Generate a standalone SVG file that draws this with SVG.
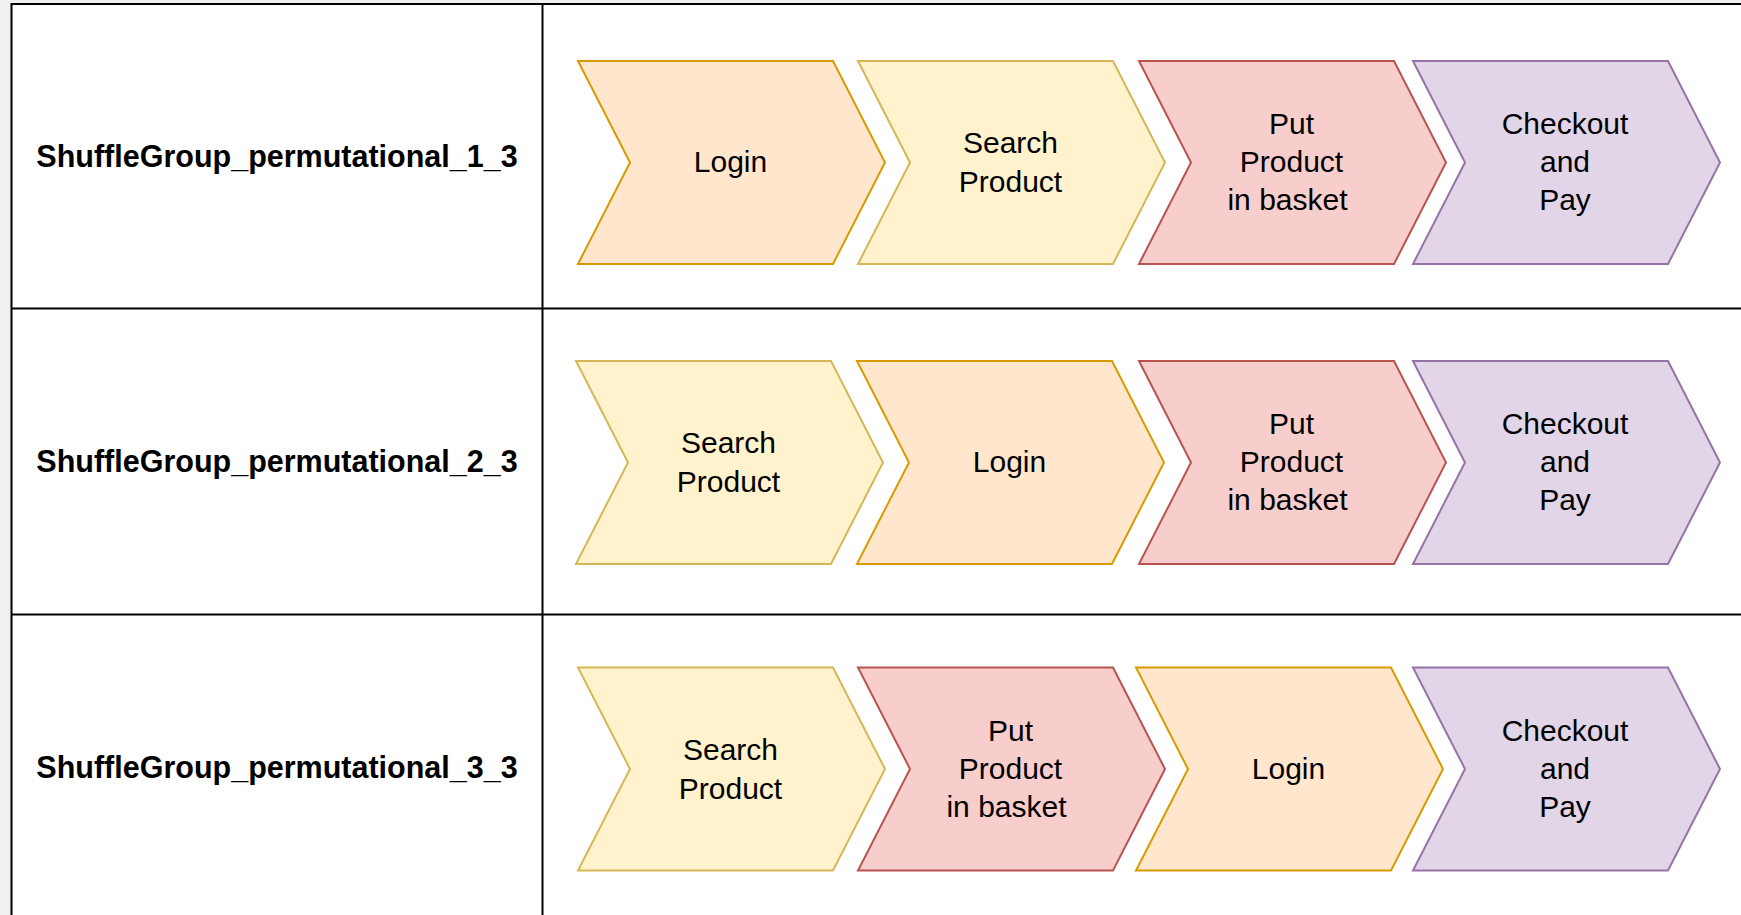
<svg xmlns="http://www.w3.org/2000/svg" xmlns:xlink="http://www.w3.org/1999/xlink" width="1741" height="915" viewBox="0 0 1741 915">
  <style>
    .grid { fill: none; stroke: #000; stroke-width: 2; }
    .cell { fill: #ffffff; stroke: #000; stroke-width: 2; }
    .lbl { font-family: "Liberation Sans", Arial, Helvetica, sans-serif; font-size: 30.5px; font-weight: bold; fill: #000; text-anchor: middle; }
    .t { font-family: "Liberation Sans", Arial, Helvetica, sans-serif; font-size: 30px; fill: #000; text-anchor: middle; }
    .login { fill: #ffe6cc; stroke: #d79b00; stroke-width: 2; }
    .search { fill: #fff2cc; stroke: #d6b656; stroke-width: 2; }
    .put { fill: #f8cecc; stroke: #b85450; stroke-width: 2; }
    .pay { fill: #e1d5e7; stroke: #9673a6; stroke-width: 2; }
  </style>
  <defs>
    <path id="chev" d="M0,0 L255,0 L307,101.5 L255,203 L0,203 L52,101.5 Z"/>
  </defs>
  <rect x="0" y="0" width="1741" height="915" fill="#f0f0f0"/>
  <g id="table">
    <rect x="11.5" y="4" width="1800" height="1000" class="cell"/>
    <line x1="542.5" y1="4" x2="542.5" y2="915" class="grid"/>
    <line x1="11.5" y1="308.5" x2="1741" y2="308.5" class="grid"/>
    <line x1="11.5" y1="614.5" x2="1741" y2="614.5" class="grid"/>
  </g>
  <g id="row-labels">
    <text class="lbl" x="277" y="166.5">ShuffleGroup_permutational_1_3</text>
    <text class="lbl" x="277" y="472">ShuffleGroup_permutational_2_3</text>
    <text class="lbl" x="277" y="778">ShuffleGroup_permutational_3_3</text>
  </g>

  <!-- Row 1 -->
  <g id="r1-login">
    <use xlink:href="#chev" href="#chev" x="578" y="61" class="login"/>
    <text class="t" x="730.5" y="172">Login</text>
  </g>
  <g id="r1-search">
    <use xlink:href="#chev" href="#chev" x="858" y="61" class="search"/>
    <text class="t" x="1010.5" y="153">Search</text>
    <text class="t" x="1010.5" y="192">Product</text>
  </g>
  <g id="r1-put">
    <use xlink:href="#chev" href="#chev" x="1139" y="61" class="put"/>
    <text class="t" x="1291.5" y="134">Put</text>
    <text class="t" x="1291.5" y="172">Product</text>
    <text class="t" x="1287.5" y="210">in basket</text>
  </g>
  <g id="r1-pay">
    <use xlink:href="#chev" href="#chev" x="1413" y="61" class="pay"/>
    <text class="t" x="1565" y="134">Checkout</text>
    <text class="t" x="1565" y="172">and</text>
    <text class="t" x="1565" y="210">Pay</text>
  </g>

  <!-- Row 2 -->
  <g id="r2-search">
    <use xlink:href="#chev" href="#chev" x="576" y="361" class="search"/>
    <text class="t" x="728.5" y="453">Search</text>
    <text class="t" x="728.5" y="492">Product</text>
  </g>
  <g id="r2-login">
    <use xlink:href="#chev" href="#chev" x="857" y="361" class="login"/>
    <text class="t" x="1009.5" y="472">Login</text>
  </g>
  <g id="r2-put">
    <use xlink:href="#chev" href="#chev" x="1139" y="361" class="put"/>
    <text class="t" x="1291.5" y="434">Put</text>
    <text class="t" x="1291.5" y="472">Product</text>
    <text class="t" x="1287.5" y="510">in basket</text>
  </g>
  <g id="r2-pay">
    <use xlink:href="#chev" href="#chev" x="1413" y="361" class="pay"/>
    <text class="t" x="1565" y="434">Checkout</text>
    <text class="t" x="1565" y="472">and</text>
    <text class="t" x="1565" y="510">Pay</text>
  </g>

  <!-- Row 3 -->
  <g id="r3-search">
    <use xlink:href="#chev" href="#chev" x="578" y="667.5" class="search"/>
    <text class="t" x="730.5" y="760">Search</text>
    <text class="t" x="730.5" y="799">Product</text>
  </g>
  <g id="r3-put">
    <use xlink:href="#chev" href="#chev" x="858" y="667.5" class="put"/>
    <text class="t" x="1010.5" y="741">Put</text>
    <text class="t" x="1010.5" y="779">Product</text>
    <text class="t" x="1006.5" y="817">in basket</text>
  </g>
  <g id="r3-login">
    <use xlink:href="#chev" href="#chev" x="1136" y="667.5" class="login"/>
    <text class="t" x="1288.5" y="779">Login</text>
  </g>
  <g id="r3-pay">
    <use xlink:href="#chev" href="#chev" x="1413" y="667.5" class="pay"/>
    <text class="t" x="1565" y="741">Checkout</text>
    <text class="t" x="1565" y="779">and</text>
    <text class="t" x="1565" y="817">Pay</text>
  </g>
  <g id="connectors"></g>
</svg>
